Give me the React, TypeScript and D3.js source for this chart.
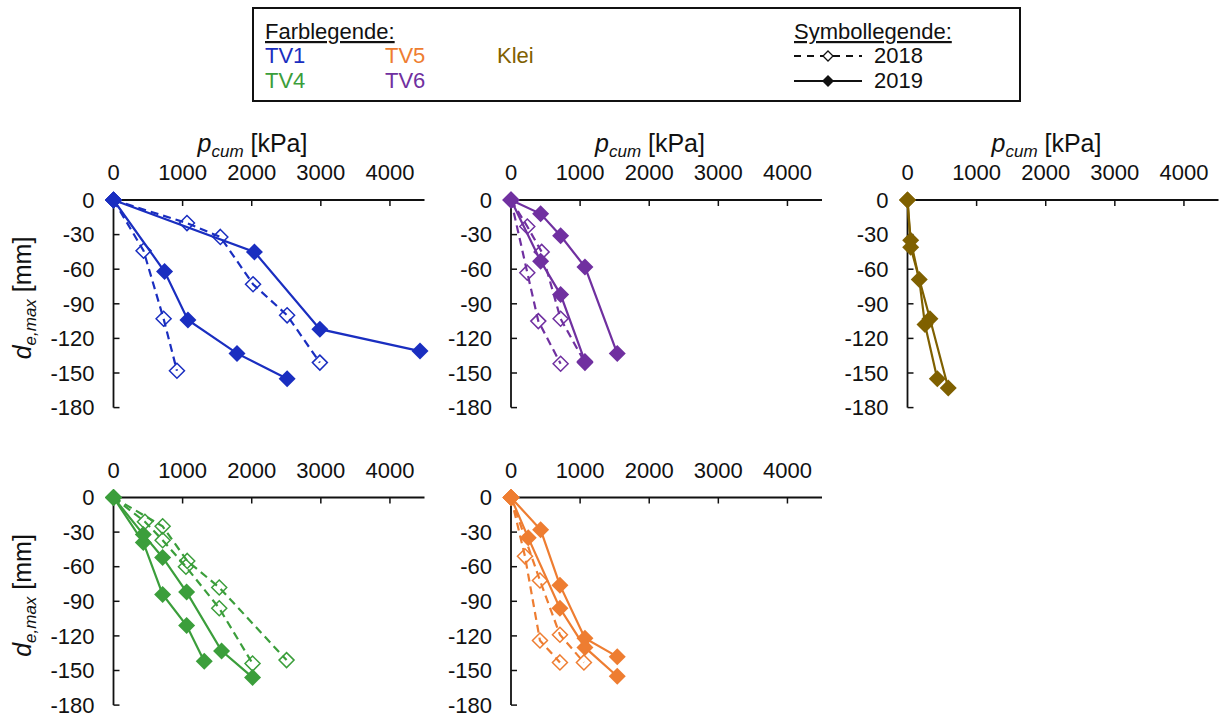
import React from 'react';
import * as d3 from 'd3';

type Pt = [number, number];

const X_TICKS = [0, 1000, 2000, 3000, 4000];
const Y_TICKS = [0, -30, -60, -90, -120, -150, -180];

// TV1
const TV1_2018_A: Pt[] = [[0, 0], [435, -44], [725, -103], [918, -148]];
const TV1_2018_B: Pt[] = [[0, 0], [1063, -20], [1546, -32], [2019, -73], [2512, -100], [2986, -141]];
const TV1_2019_A: Pt[] = [[0, 0], [739, -62], [1077, -104], [1787, -133], [2512, -155]];
const TV1_2019_B: Pt[] = [[0, 0], [2039, -45], [2986, -112], [4435, -131]];

// TV6
const TV6_2018_A: Pt[] = [[0, 0], [236, -23], [444, -45], [718, -103], [1070, -141]];
const TV6_2018_B: Pt[] = [[0, 0], [236, -63], [395, -105], [718, -142]];
const TV6_2019_A: Pt[] = [[0, 0], [429, -12], [718, -31], [1070, -58], [1537, -133]];
const TV6_2019_B: Pt[] = [[0, 0], [429, -53], [718, -82], [1070, -140]];

// Klei
const KLEI_2019_A: Pt[] = [[0, 0], [46, -35], [170, -69], [253, -108], [431, -155]];
const KLEI_2019_B: Pt[] = [[0, 0], [46, -41], [325, -103], [590, -163]];

// TV4
const TV4_2018_A: Pt[] = [[0, 0], [455, -21], [711, -37], [1048, -60], [1530, -96], [2012, -144]];
const TV4_2018_B: Pt[] = [[0, 0], [711, -25], [1067, -55], [1530, -78], [2504, -141]];
const TV4_2019_A: Pt[] = [[0, 0], [431, -39], [711, -84], [1058, -111], [1313, -142]];
const TV4_2019_B: Pt[] = [[0, 0], [431, -32], [711, -52], [1058, -82], [1564, -133], [2012, -156]];

// TV5
const TV5_2018_A: Pt[] = [[0, 0], [202, -51], [419, -124], [708, -143]];
const TV5_2018_B: Pt[] = [[0, 0], [419, -72], [708, -119], [1055, -143]];
const TV5_2019_A: Pt[] = [[0, 0], [429, -28], [708, -76], [1070, -122], [1537, -138]];
const TV5_2019_B: Pt[] = [[0, 0], [250, -35], [708, -96], [1070, -130], [1537, -155]];

const COLORS = {
  TV1: '#1a2ec0',
  TV4: '#3b9e3b',
  TV5: '#ee7d31',
  TV6: '#7030a0',
  Klei: '#7f6000',
};

const FONT = '"Liberation Sans", Arial, sans-serif';

interface Panel {
  key: string;
  color: string;
  x0: number;
  y0: number;
  xTitle: boolean;
  yTitle: boolean;
  s2018: Pt[][];
  s2019: Pt[][];
}

const PANELS: Panel[] = [
  { key: 'TV1', color: COLORS.TV1, x0: 113.5, y0: 200, xTitle: true, yTitle: true, s2018: [TV1_2018_A, TV1_2018_B], s2019: [TV1_2019_A, TV1_2019_B] },
  { key: 'TV6', color: COLORS.TV6, x0: 511, y0: 200, xTitle: true, yTitle: false, s2018: [TV6_2018_A, TV6_2018_B], s2019: [TV6_2019_A, TV6_2019_B] },
  { key: 'Klei', color: COLORS.Klei, x0: 907.5, y0: 200, xTitle: true, yTitle: false, s2018: [], s2019: [KLEI_2019_A, KLEI_2019_B] },
  { key: 'TV4', color: COLORS.TV4, x0: 113.5, y0: 497.5, xTitle: false, yTitle: true, s2018: [TV4_2018_A, TV4_2018_B], s2019: [TV4_2019_A, TV4_2019_B] },
  { key: 'TV5', color: COLORS.TV5, x0: 511, y0: 497.5, xTitle: false, yTitle: false, s2018: [TV5_2018_A, TV5_2018_B], s2019: [TV5_2019_A, TV5_2019_B] },
];

const PW = 311;
const PH = 207.6;

const diamond = (r: number) => `M0,${-r}L${r},0L0,${r}L${-r},0Z`;

function PanelView({ p }: { p: Panel }) {
  const x = d3.scaleLinear().domain([0, 4500]).range([p.x0, p.x0 + PW]);
  const y = d3.scaleLinear().domain([0, -180]).range([p.y0, p.y0 + PH]);
  const line = d3.line<Pt>().x((d) => x(d[0])).y((d) => y(d[1]));
  return (
    <g>
      {p.xTitle && (
        <text x={p.x0 + 139} y={p.y0 - 48} textAnchor="middle" fontSize={25} fill="#111">
          <tspan fontStyle="italic">p</tspan>
          <tspan fontStyle="italic" fontSize={17} dy={5}>cum</tspan>
          <tspan dy={-5}> [kPa]</tspan>
        </text>
      )}
      {p.yTitle && (
        <text transform={`translate(31, ${p.y0 + 98}) rotate(-90)`} textAnchor="middle" fontSize={25} fill="#111">
          <tspan fontStyle="italic">d</tspan>
          <tspan fontStyle="italic" fontSize={17} dy={5}>e,max</tspan>
          <tspan dy={-5}> [mm]</tspan>
        </text>
      )}
      {/* axes */}
      <line x1={x(0)} x2={x(4500)} y1={y(0)} y2={y(0)} stroke="#111" strokeWidth={1.8} />
      <line x1={x(0)} x2={x(0)} y1={y(0)} y2={y(-180)} stroke="#111" strokeWidth={1.8} />
      {X_TICKS.map((t) => (
        <g key={'xt' + t}>
          {t !== 0 && <line x1={x(t)} x2={x(t)} y1={y(0)} y2={y(0) + 6} stroke="#111" strokeWidth={1.5} />}
          <text x={x(t)} y={y(0) - 20} textAnchor="middle" fontSize={22} fill="#111">{t}</text>
        </g>
      ))}
      {Y_TICKS.map((t) => (
        <g key={'yt' + t}>
          {t !== 0 && <line x1={x(0)} x2={x(0) + 6} y1={y(t)} y2={y(t)} stroke="#111" strokeWidth={1.5} />}
          <text x={x(0) - 19} y={y(t)} dy="0.35em" textAnchor="end" fontSize={22} fill="#111">{t === 0 ? '0' : '-' + Math.abs(t)}</text>
        </g>
      ))}
      {/* 2018 dashed, open diamonds */}
      {p.s2018.map((s, i) => (
        <g key={'a' + i}>
          <path d={line(s) || ''} fill="none" stroke={p.color} strokeWidth={2.2} strokeDasharray="8,5" />
          {s.map((d, j) => (
            <path key={j} d={diamond(7.5)} transform={`translate(${x(d[0])},${y(d[1])})`} fill="none" stroke={p.color} strokeWidth={1.5} />
          ))}
        </g>
      ))}
      {/* 2019 solid, filled diamonds */}
      {p.s2019.map((s, i) => (
        <g key={'b' + i}>
          <path d={line(s) || ''} fill="none" stroke={p.color} strokeWidth={2.2} />
          {s.map((d, j) => (
            <path key={j} d={diamond(8.5)} transform={`translate(${x(d[0])},${y(d[1])})`} fill={p.color} />
          ))}
        </g>
      ))}
    </g>
  );
}

function Legend() {
  return (
    <g fontSize={22}>
      <rect x={253} y={8} width={767} height={93} fill="white" stroke="#111" strokeWidth={2} />
      <text x={265} y={39} fill="#111" textDecoration="underline">Farblegende:</text>
      <text x={265} y={63} fill={COLORS.TV1}>TV1</text>
      <text x={385} y={63} fill={COLORS.TV5}>TV5</text>
      <text x={497} y={63} fill={COLORS.Klei}>Klei</text>
      <text x={265} y={88} fill={COLORS.TV4}>TV4</text>
      <text x={385} y={88} fill={COLORS.TV6}>TV6</text>
      <text x={794} y={39} fill="#111" textDecoration="underline">Symbollegende:</text>
      <line x1={794} x2={862} y1={56} y2={56} stroke="#111" strokeWidth={1.8} strokeDasharray="7,6" />
      <path d={diamond(5)} transform="translate(828,56)" fill="white" stroke="#111" strokeWidth={1.3} />
      <text x={874} y={63} fill="#111">2018</text>
      <line x1={794} x2={862} y1={81} y2={81} stroke="#111" strokeWidth={1.8} />
      <path d={diamond(6)} transform="translate(828,81)" fill="#111" />
      <text x={874} y={88} fill="#111">2019</text>
    </g>
  );
}

export default function App() {
  return (
    <svg
      width={1224}
      height={716}
      style={{ position: 'fixed', left: 0, top: 0, background: 'white' }}
      fontFamily={FONT}
    >
      <rect width={1224} height={716} fill="white" />
      <Legend />
      {PANELS.map((p) => (
        <PanelView key={p.key} p={p} />
      ))}
    </svg>
  );
}
